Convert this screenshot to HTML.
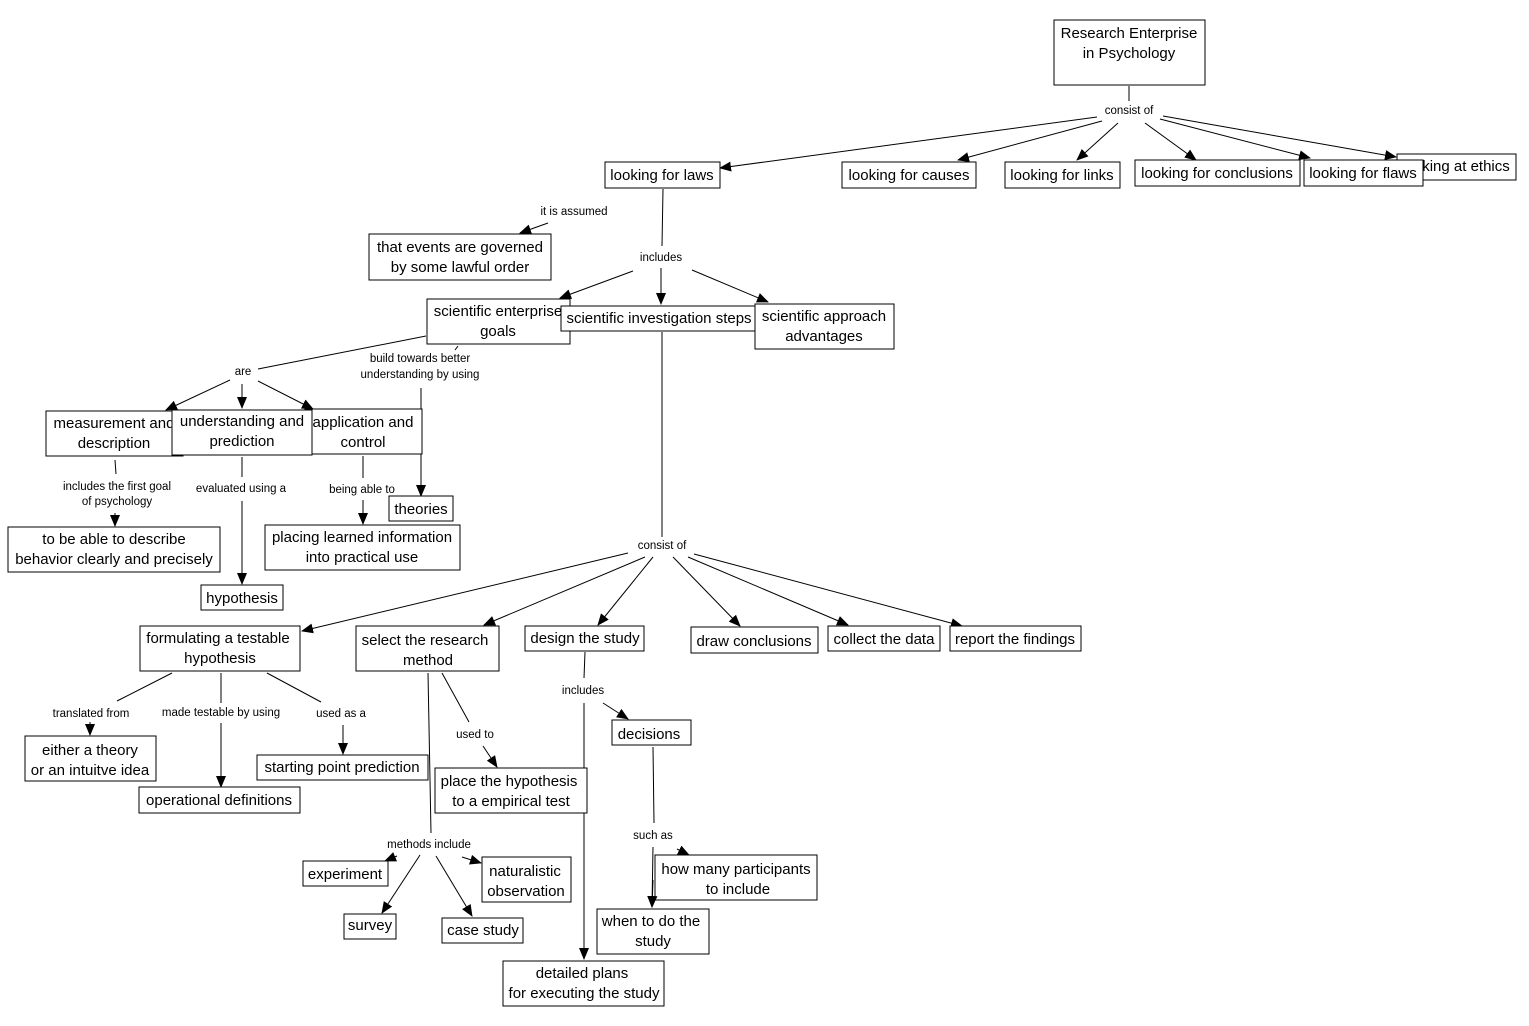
<!DOCTYPE html>
<html><head><meta charset="utf-8"><style>
html,body{margin:0;padding:0;background:#fff}
svg{display:block}
.n rect{fill:#fff;stroke:#000;stroke-width:1}
.t{font-family:"Liberation Sans",sans-serif;font-size:15px;fill:#000;text-anchor:middle}
.l{font-family:"Liberation Sans",sans-serif;font-size:11.5px;fill:#000;text-anchor:middle}
line{stroke:#000;stroke-width:1}
line.a{marker-end:url(#ar)}
</style></head><body>
<svg width="1529" height="1026" viewBox="0 0 1529 1026" xmlns="http://www.w3.org/2000/svg">
<defs><marker id="ar" markerWidth="12" markerHeight="10" refX="11" refY="5" orient="auto" markerUnits="userSpaceOnUse"><path d="M0,0 L12,5 L0,10 z" fill="#000"/></marker></defs>

<g>
<line x1="1129" y1="86" x2="1129" y2="101"/>
<line class="a" x1="1097" y1="117" x2="720" y2="168"/>
<line class="a" x1="1102" y1="121" x2="958" y2="160"/>
<line class="a" x1="1118" y1="123" x2="1077" y2="160"/>
<line class="a" x1="1145" y1="123" x2="1196" y2="160"/>
<line class="a" x1="1160" y1="119" x2="1310" y2="158"/>
<line class="a" x1="1163" y1="116" x2="1396" y2="157"/>
<line class="a" x1="548" y1="223" x2="520" y2="233"/>
<line x1="663" y1="189" x2="662" y2="246"/>
<line class="a" x1="633" y1="271" x2="560" y2="298"/>
<line class="a" x1="661" y1="268" x2="661" y2="304"/>
<line class="a" x1="692" y1="270" x2="768" y2="302"/>
<line x1="426" y1="336" x2="258" y2="369"/>
<line class="a" x1="230" y1="380" x2="166" y2="410"/>
<line class="a" x1="242" y1="384" x2="242" y2="408"/>
<line class="a" x1="258" y1="381" x2="313" y2="409"/>
<line x1="458" y1="346" x2="455" y2="350"/>
<line class="a" x1="421" y1="388" x2="421" y2="496"/>
<line x1="115" y1="460" x2="116" y2="474"/>
<line class="a" x1="115" y1="513" x2="115" y2="526"/>
<line x1="242" y1="457" x2="242" y2="477"/>
<line class="a" x1="242" y1="501" x2="242" y2="584"/>
<line x1="363" y1="456" x2="363" y2="478"/>
<line class="a" x1="363" y1="500" x2="363" y2="524"/>
<line x1="662" y1="332" x2="662" y2="537"/>
<line class="a" x1="628" y1="553" x2="302" y2="631"/>
<line class="a" x1="645" y1="557" x2="484" y2="625"/>
<line class="a" x1="653" y1="557" x2="598" y2="625"/>
<line class="a" x1="673" y1="557" x2="740" y2="626"/>
<line class="a" x1="688" y1="557" x2="848" y2="625"/>
<line class="a" x1="694" y1="554" x2="962" y2="626"/>
<line x1="172" y1="673" x2="117" y2="701"/>
<line class="a" x1="90" y1="722" x2="90" y2="735"/>
<line x1="221" y1="673" x2="221" y2="703"/>
<line class="a" x1="221" y1="723" x2="221" y2="787"/>
<line x1="267" y1="673" x2="321" y2="702"/>
<line class="a" x1="343" y1="725" x2="343" y2="754"/>
<line x1="428" y1="673" x2="431" y2="833"/>
<line x1="442" y1="673" x2="469" y2="722"/>
<line class="a" x1="483" y1="746" x2="497" y2="767"/>
<line class="a" x1="397" y1="856" x2="385" y2="861"/>
<line class="a" x1="462" y1="857" x2="481" y2="863"/>
<line class="a" x1="420" y1="855" x2="382" y2="913"/>
<line class="a" x1="436" y1="856" x2="472" y2="916"/>
<line x1="585" y1="652" x2="584" y2="678"/>
<line class="a" x1="584" y1="703" x2="584" y2="959"/>
<line class="a" x1="603" y1="703" x2="628" y2="719"/>
<line x1="653" y1="747" x2="654" y2="823"/>
<line class="a" x1="653" y1="847" x2="652" y2="907"/>
<line class="a" x1="677" y1="849" x2="689" y2="855"/>
</g>

<g class="l">
<rect x="1098" y="102" width="62" height="16" fill="#fff"/>
<text x="1129" y="114">consist of</text>
<text x="574" y="215">it is assumed</text>
<text x="661" y="261">includes</text>
<text x="243" y="375">are</text>
<text x="420" y="362">build towards better</text>
<text x="420" y="378">understanding by using</text>
<text x="117" y="490">includes the first goal</text>
<text x="117" y="505">of psychology</text>
<text x="241" y="492">evaluated using a</text>
<text x="362" y="493">being able to</text>
<text x="662" y="549">consist of</text>
<text x="91" y="717">translated from</text>
<text x="221" y="716">made testable by using</text>
<text x="341" y="717">used as a</text>
<text x="475" y="738">used to</text>
<text x="583" y="694">includes</text>
<text x="429" y="848">methods include</text>
<text x="653" y="839">such as</text>
</g>

<g class="n">
<rect x="1054" y="20" width="151" height="65"/>
<text class="t" x="1129" y="38">Research Enterprise</text>
<text class="t" x="1129" y="58">in Psychology</text>
<rect x="605" y="162" width="115" height="26"/><text class="t" x="662" y="180">looking for laws</text>
<rect x="842" y="162" width="134" height="26"/><text class="t" x="909" y="180">looking for causes</text>
<rect x="1005" y="162" width="115" height="26"/><text class="t" x="1062" y="180">looking for links</text>
<rect x="1135" y="160" width="165" height="26"/><text class="t" x="1217" y="178">looking for conclusions</text>
<rect x="1397" y="154" width="119" height="26"/><text class="t" x="1456" y="171">looking at ethics</text>
<rect x="1304" y="160" width="119" height="26"/><text class="t" x="1363" y="178">looking for flaws</text>
<rect x="369" y="234" width="182" height="46"/>
<text class="t" x="460" y="252">that events are governed</text>
<text class="t" x="460" y="272">by some lawful order</text>
<rect x="427" y="299" width="143" height="45"/>
<text class="t" x="498" y="316">scientific enterprise</text>
<text class="t" x="498" y="336">goals</text>
<rect x="561" y="306" width="196" height="25"/><text class="t" x="659" y="323">scientific investigation steps</text>
<rect x="755" y="304" width="139" height="45"/>
<text class="t" x="824" y="321">scientific approach</text>
<text class="t" x="824" y="341">advantages</text>
<rect x="46" y="411" width="137" height="45"/>
<text class="t" x="114" y="428">measurement and</text>
<text class="t" x="114" y="448">description</text>
<rect x="305" y="409" width="117" height="45"/>
<text class="t" x="363" y="427">application and</text>
<text class="t" x="363" y="447">control</text>
<rect x="172" y="410" width="140" height="45"/>
<text class="t" x="242" y="426">understanding and</text>
<text class="t" x="242" y="446">prediction</text>
<rect x="8" y="527" width="212" height="45"/>
<text class="t" x="114" y="544">to be able to describe</text>
<text class="t" x="114" y="564">behavior clearly and precisely</text>
<rect x="389" y="496" width="64" height="25"/><text class="t" x="421" y="514">theories</text>
<rect x="265" y="525" width="195" height="45"/>
<text class="t" x="362" y="542">placing learned information</text>
<text class="t" x="362" y="562">into practical use</text>
<rect x="201" y="585" width="82" height="25"/><text class="t" x="242" y="603">hypothesis</text>
<rect x="140" y="626" width="160" height="45"/>
<text class="t" x="218" y="643">formulating a testable</text>
<text class="t" x="220" y="663">hypothesis</text>
<rect x="356" y="626" width="143" height="45"/>
<text class="t" x="425" y="645">select the research</text>
<text class="t" x="428" y="665">method</text>
<rect x="525" y="626" width="119" height="25"/><text class="t" x="585" y="643">design the study</text>
<rect x="691" y="627" width="127" height="26"/><text class="t" x="754" y="646">draw conclusions</text>
<rect x="828" y="626" width="112" height="25"/><text class="t" x="884" y="644">collect the data</text>
<rect x="950" y="626" width="131" height="25"/><text class="t" x="1015" y="644">report the findings</text>
<rect x="25" y="736" width="131" height="45"/>
<text class="t" x="90" y="755">either a theory</text>
<text class="t" x="90" y="775">or an intuitve idea</text>
<rect x="139" y="787" width="161" height="26"/><text class="t" x="219" y="805">operational definitions</text>
<rect x="257" y="755" width="171" height="25"/><text class="t" x="342" y="772">starting point prediction</text>
<rect x="435" y="768" width="152" height="45"/>
<text class="t" x="509" y="786">place the hypothesis</text>
<text class="t" x="511" y="806">to a empirical test</text>
<rect x="612" y="720" width="79" height="25"/><text class="t" x="649" y="739">decisions</text>
<rect x="303" y="861" width="85" height="25"/><text class="t" x="345" y="879">experiment</text>
<rect x="482" y="857" width="89" height="45"/>
<text class="t" x="525" y="876">naturalistic</text>
<text class="t" x="526" y="896">observation</text>
<rect x="344" y="914" width="52" height="25"/><text class="t" x="370" y="930">survey</text>
<rect x="442" y="918" width="81" height="25"/><text class="t" x="483" y="935">case study</text>
<rect x="655" y="855" width="162" height="45"/>
<text class="t" x="736" y="874">how many participants</text>
<text class="t" x="738" y="894">to include</text>
<rect x="597" y="909" width="112" height="45"/>
<text class="t" x="651" y="926">when to do the</text>
<text class="t" x="653" y="946">study</text>
<rect x="503" y="961" width="161" height="45"/>
<text class="t" x="582" y="978">detailed plans</text>
<text class="t" x="584" y="998">for executing the study</text>
</g>
<line class="a" x1="653" y1="880" x2="652" y2="907"/>
</svg>
</body></html>
